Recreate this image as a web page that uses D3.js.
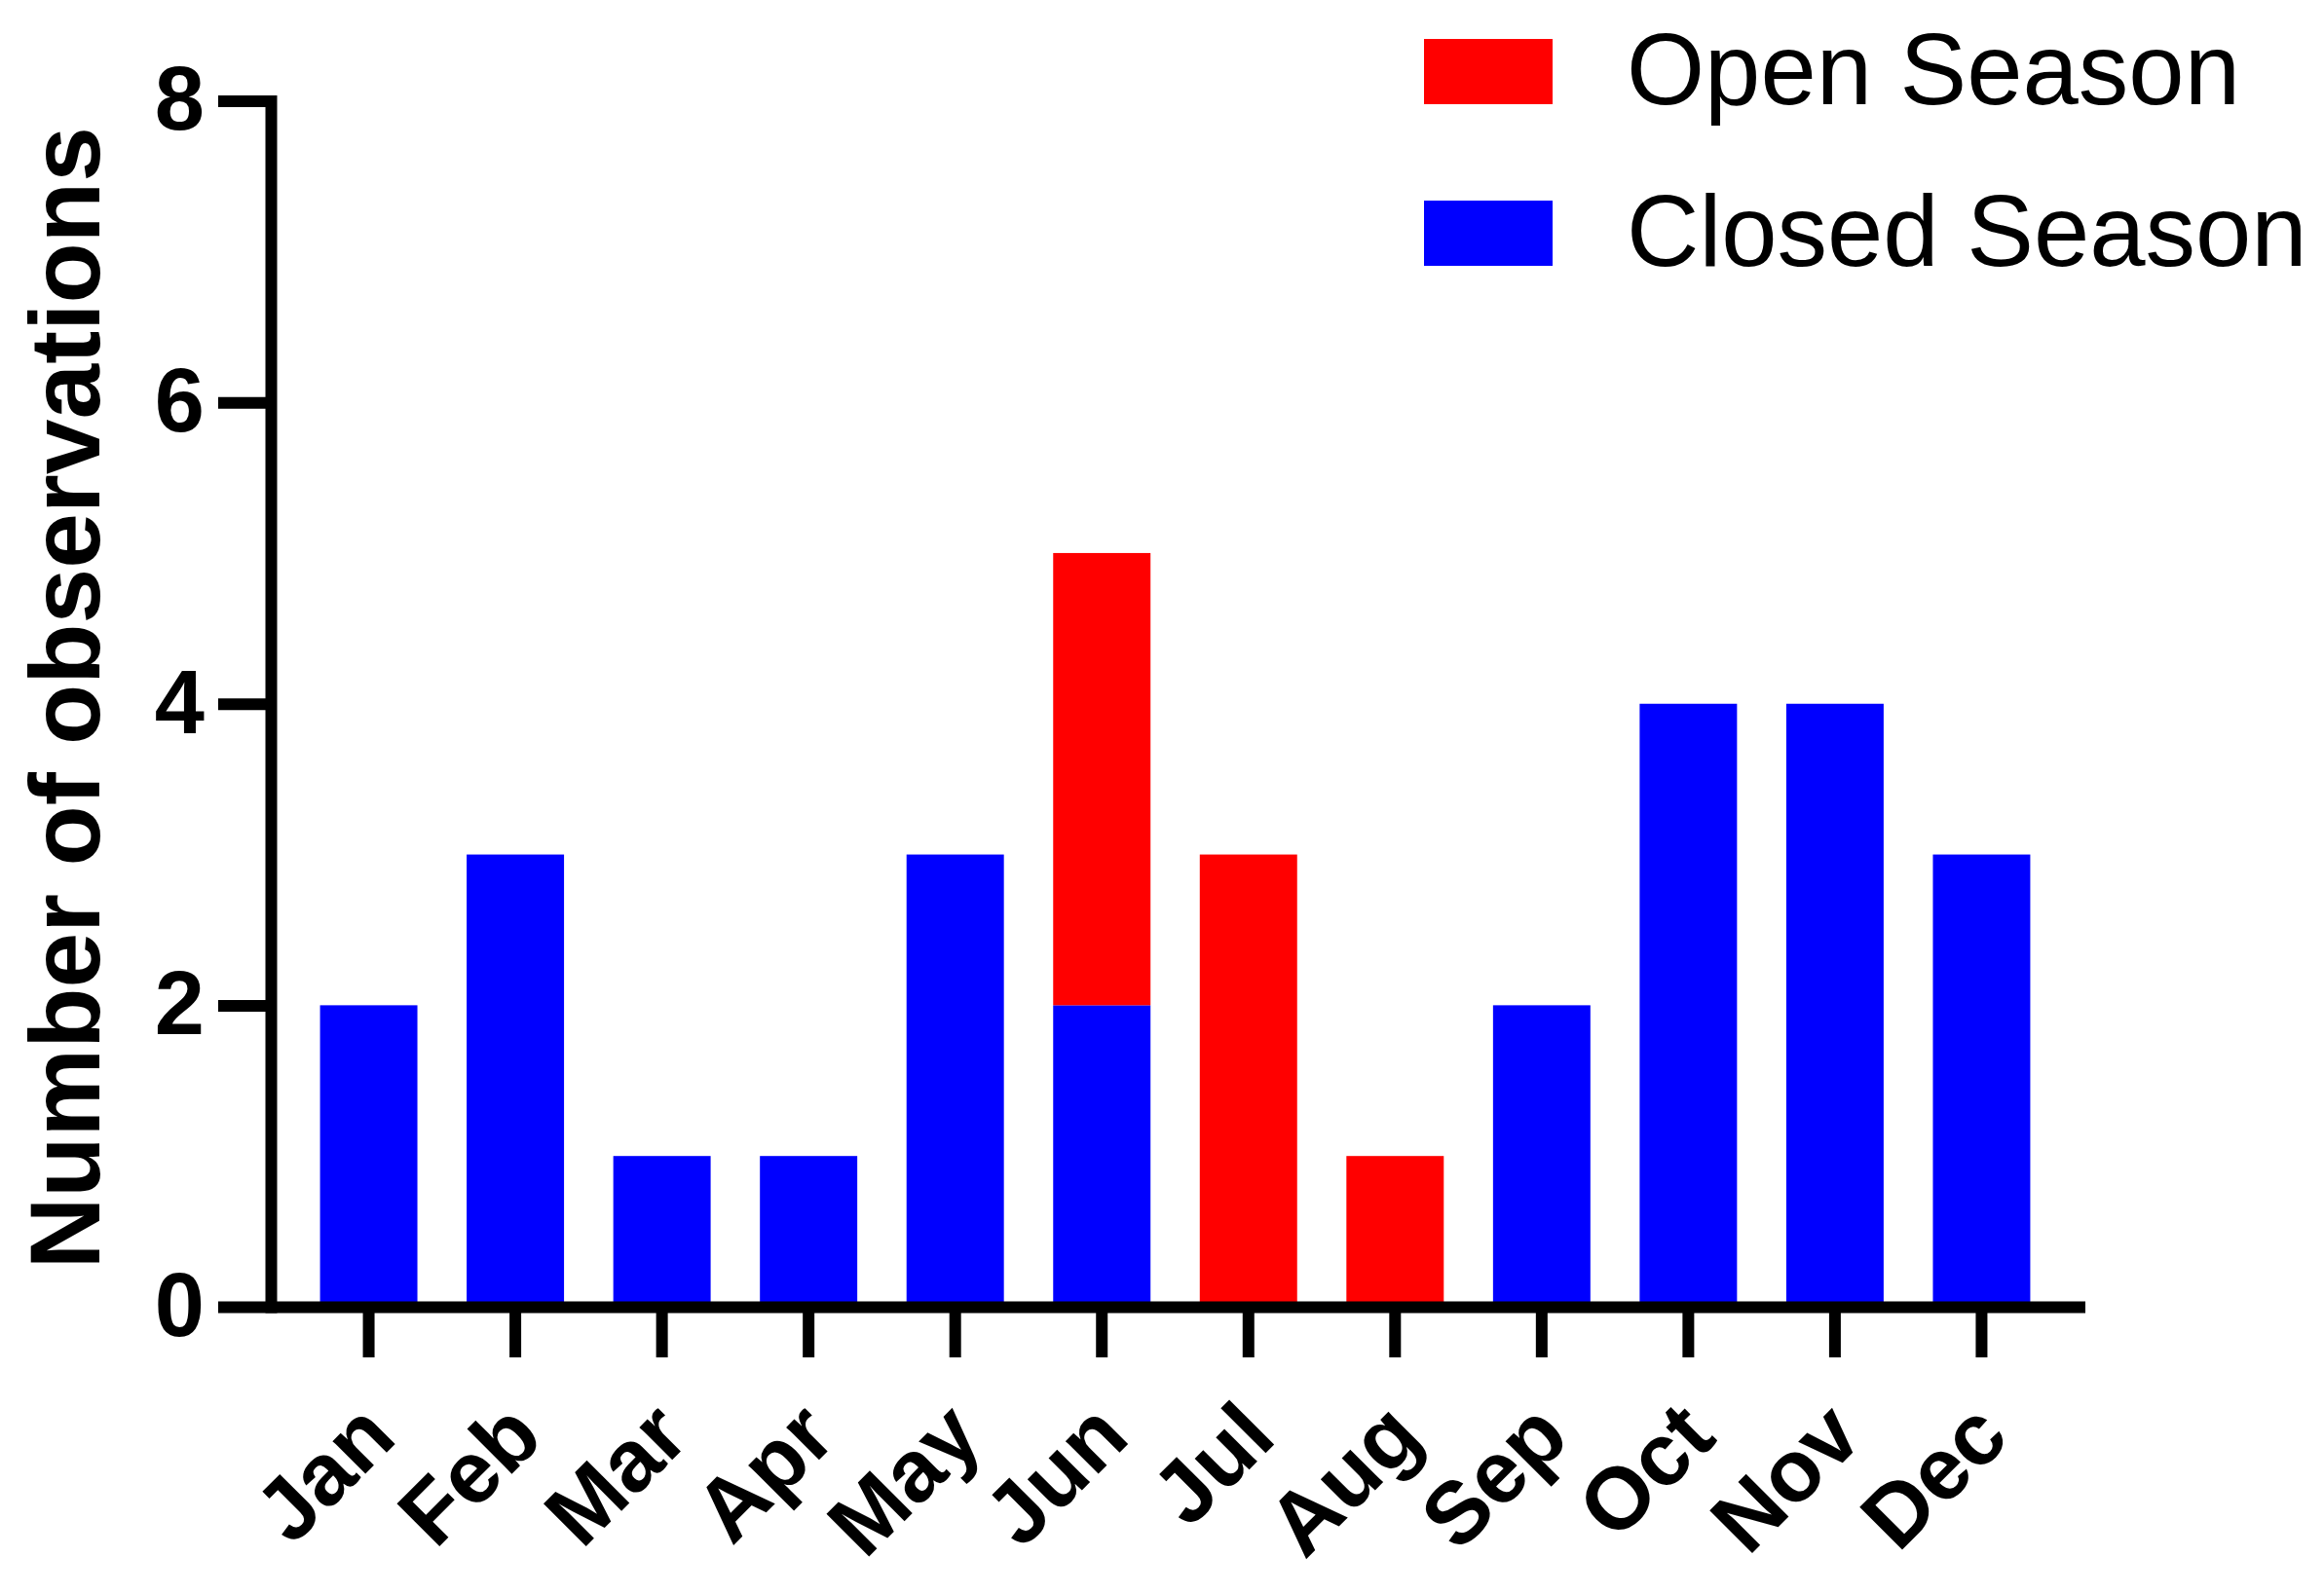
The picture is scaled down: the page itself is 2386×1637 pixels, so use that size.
<!DOCTYPE html>
<html>
<head>
<meta charset="utf-8">
<script src="https://cdn.jsdelivr.net/npm/d3@7"></script>
<style>
  body { margin: 0; background: #fff; }
  svg { display: block; font-family: "Liberation Sans", Arial, sans-serif; }
</style>
</head>
<body>
<svg id="chart" width="2386" height="1637"></svg>
<script>
const months = ['Jan', 'Feb', 'Mar', 'Apr', 'May', 'Jun', 'Jul', 'Aug', 'Sep', 'Oct', 'Nov', 'Dec'];
const closedSeason = [2, 3, 1, 1, 3, 2, 0, 0, 2, 4, 4, 3];
const openSeason = [0, 0, 0, 0, 0, 3, 3, 1, 0, 0, 0, 0];
const yTicks = [0, 2, 4, 6, 8];
const seriesNames = ['Open Season', 'Closed Season'];

const svg = d3.select('#chart');
const colors = { closed: '#0000ff', open: '#ff0000' };
const axisEnd = 2141;

// scales
const x = d3.scaleBand()
    .domain(months)
    .range([278, 2135])
    .padding(0.336);
const y = d3.scaleLinear()
    .domain([0, 8])
    .range([1342, 103.5]);

// stack closed below open
const table = months.map(function(m, i) {
  return { month: m, closed: closedSeason[i], open: openSeason[i] };
});
const stacked = d3.stack().keys(['closed', 'open'])(table);

svg.append('g').attr('class', 'bars')
  .selectAll('g')
  .data(stacked)
  .join('g')
    .attr('fill', function(d) { return colors[d.key]; })
  .selectAll('rect')
  .data(function(d) { return d; })
  .join('rect')
    .attr('x', function(d) { return x(d.data.month); })
    .attr('width', x.bandwidth())
    .attr('y', function(d) { return y(d[1]); })
    .attr('height', function(d) { return y(d[0]) - y(d[1]); });

// x axis
const xAxis = svg.append('g')
    .attr('transform', 'translate(0,' + y(0) + ')')
    .call(d3.axisBottom(x).tickSize(52).tickSizeOuter(0));
xAxis.select('.domain').attr('d', 'M278,0.5H' + axisEnd);
xAxis.selectAll('line, path').attr('stroke', '#000').attr('stroke-width', 12);
xAxis.selectAll('text')
    .attr('fill', '#000')
    .attr('font-size', 90)
    .attr('font-weight', 'bold')
    .attr('text-anchor', 'end')
    .attr('x', 0)
    .attr('y', 0)
    .attr('dy', null)
    .attr('transform', 'translate(31,137) rotate(-45)');

// y axis
const yAxis = svg.append('g')
    .attr('transform', 'translate(278,0)')
    .call(d3.axisLeft(y).tickValues(yTicks).tickSize(54).tickPadding(14).tickSizeOuter(0));
yAxis.select('.domain').attr('stroke-linecap', 'square');
yAxis.selectAll('line, path').attr('stroke', '#000').attr('stroke-width', 12);
yAxis.selectAll('text')
    .attr('fill', '#000')
    .attr('font-size', 92)
    .attr('font-weight', 'bold');

// y title
svg.append('text')
    .attr('transform', 'translate(102,' + ((y(0) + y(8)) / 2 - 6) + ') rotate(-90)')
    .attr('text-anchor', 'middle')
    .attr('font-size', 102)
    .attr('font-weight', 'bold')
    .text('Number of observations');

// legend
const legend = svg.append('g').attr('transform', 'translate(1462,0)');
const legendItems = legend.selectAll('g')
  .data(seriesNames)
  .join('g')
    .attr('transform', function(d, i) { return 'translate(0,' + (107 + i * 166) + ')'; });
legendItems.append('rect')
    .attr('x', 0)
    .attr('y', -67)
    .attr('width', 132)
    .attr('height', 67)
    .attr('fill', function(d, i) { return i === 0 ? colors.open : colors.closed; });
legendItems.append('text')
    .attr('x', 208)
    .attr('y', 0)
    .attr('font-size', 103)
    .text(function(d) { return d; });
</script>
</body>
</html>
